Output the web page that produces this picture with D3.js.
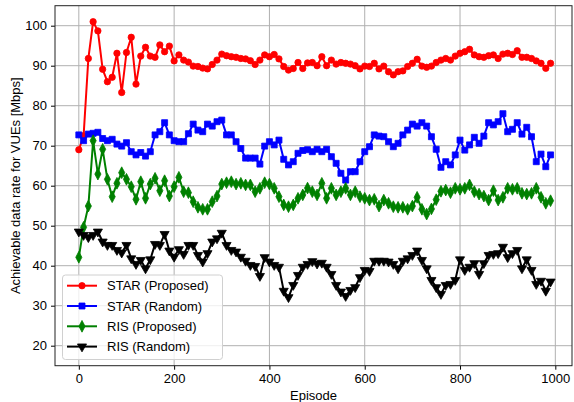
<!DOCTYPE html>
<html><head><meta charset="utf-8">
<script src="https://cdn.jsdelivr.net/npm/d3@7"></script>
<style>body{margin:0;background:#fff}svg{display:block;font-family:"Liberation Sans",Arial,sans-serif}</style>
</head><body><svg id="c" width="574" height="402"></svg>
<script>
const episodes = d3.range(0, 1000, 10);
const starProposed = [69,72.5,91.8,101,98.7,89.1,86,87.1,93.1,83.3,93.3,97.1,85.4,92.4,94.6,92.4,92.1,95.2,93.5,94.9,
91.2,92.7,91.4,90.9,89.9,89.8,89.4,89.2,90.3,91.4,92.9,92.5,92.25,92.1,91.8,91.7,91.25,90.3,91.4,92.7,
92.25,92.8,91.7,89.8,88.9,89.3,90.8,89.3,90.7,90.8,90,92.25,90,91.4,90.4,90.8,90.6,90.4,90,89.2,
89.9,89.8,90.6,89.2,89.9,88.5,87.7,88.5,88.7,89.8,90.6,91.6,89.9,89.6,89.9,90.8,91.4,91.8,91.4,92.4,
93.1,93.5,94.1,92.7,92.25,92.1,92.5,92.7,91.8,92.9,93.1,92.8,93.75,92.1,92.1,91.8,91.2,90.6,89.35,90.6];
const starRandom = [72.7,71.25,72.9,73.1,73.35,71.8,71.25,71.6,70.4,69.9,70.75,68.5,67.7,68.3,67.4,68.5,72.7,73.5,75.75,72.7,
71.25,71,71,73,75.4,73.9,73.5,75.4,74.9,76,76.4,72.7,72.7,71,69.3,66.9,66.9,66.9,65.4,69.9,
71,70.2,71.4,66.6,65.2,66,68.1,68.8,69,68.5,69.1,68.5,69.1,67.25,65.6,63.1,61.4,63.5,63.5,66,
68.5,69.75,72.7,72.4,72.25,71,69.75,70.6,72.7,73.9,75.4,74.9,75.75,74.9,72.25,69.1,64.6,66,65.2,67.7,
71.4,68.9,70.2,72.1,70.6,72.4,75.75,75.2,76,78,73.5,74.1,75.75,72.9,74.6,72.25,66,67.9,64.75,67.7];
const risProposed = [42.1,49.6,54.9,71.25,62.9,69.1,61.6,57.25,60.6,63.25,61.6,59.75,56.6,61,56.85,60.4,61.85,58.75,61.25,57.4,
59.75,62.1,58.5,58.25,56,54.6,54.1,54.1,56,57.4,60.4,60.75,61,60.4,60.6,60.2,60.2,58.5,59.35,60.75,
60.4,59.35,57.25,55.2,54.75,55.2,56.85,57.7,59.4,58.5,57.7,60.6,56.85,59.35,57.7,58.5,59.35,57.7,58.5,57.25,
56.85,56.4,56.6,54.9,56.4,55.6,54.75,54.6,54.6,54.1,54.9,57.1,54.1,52.9,54.2,56.5,58.6,58.9,58.25,59.35,
59.1,59.35,60.2,58.5,57.9,57.4,56.4,58.75,56.4,57.1,59.35,59.1,59.35,58.1,57.9,58.1,59.35,57.1,55.6,56.25];
const risRandom = [48.5,47.65,47.1,47.65,48.5,46,45.15,45.15,43.9,43.25,45.15,41.8,40.4,41.4,39.3,41.55,45.4,45.15,47.9,43.75,
42.2,44.1,42.9,45.15,45.15,42.65,41,43.1,46,46.8,48.2,45.15,43.9,43.5,42.2,41.2,40.15,39.9,37.4,42.1,
41,40.15,39.7,33.7,32.1,35.15,37.65,39.7,40.4,41.1,40.5,40.7,39.7,37.9,35.15,33.5,32.4,33.9,34.6,37.1,
38.9,38.65,41.2,41.2,41.2,41,40.4,39.3,41.2,41.8,42.65,43.75,41.4,39.3,36.4,34.6,32.9,35.15,35.4,36.4,
41.55,38.9,39.7,40.6,37.9,40.6,42.65,42.9,43.1,44.7,42.1,43.1,43.9,39.3,41.55,38.9,35.4,36.2,33.7,36];
const xTicks = [0,200,400,600,800,1000];
const yTicks = [20,30,40,50,60,70,80,90,100];
const seriesNames = ["STAR (Proposed)","STAR (Random)","RIS (Proposed)","RIS (Random)"];
const seriesColors = ["#ff0000","#0000ff","#008000","#000000"];
const seriesSymbols = ["circle","square","diamond","triangle"];
const seriesValues = [starProposed, starRandom, risProposed, risRandom];

const svg = d3.select("#c");
const L = 55, R = 572, T = 5.7, B = 365.7;
const x = d3.scaleLinear().domain([-50, 1035]).range([L, L + (1035+50)*0.4765]);
const y = d3.scaleLinear().domain([15, 105]).range([B, T]);

// grid
svg.append("g").selectAll("line").data(xTicks).join("line")
  .attr("x1", d => x(d)).attr("x2", d => x(d)).attr("y1", T).attr("y2", B)
  .attr("stroke", "#b0b0b0").attr("stroke-width", 1);
svg.append("g").selectAll("line").data(yTicks).join("line")
  .attr("y1", d => y(d)).attr("y2", d => y(d)).attr("x1", L).attr("x2", R)
  .attr("stroke", "#b0b0b0").attr("stroke-width", 1);

// axes
const xAxis = svg.append("g").attr("transform", `translate(0,${B})`)
  .call(d3.axisBottom(x).tickValues(xTicks).tickSize(4).tickPadding(4).tickFormat(d3.format("d")));
const yAxis = svg.append("g").attr("transform", `translate(${L},0)`)
  .call(d3.axisLeft(y).tickValues(yTicks).tickSize(4).tickPadding(4).tickFormat(d3.format("d")));
[xAxis, yAxis].forEach(g => {
  g.select(".domain").remove();
  g.selectAll("text").attr("font-size", 13).attr("fill", "#000").attr("font-family", "Liberation Sans, Arial, sans-serif");
  g.selectAll("line").attr("stroke", "#000");
});
// frame
svg.append("rect").attr("x", L).attr("y", T).attr("width", R - L).attr("height", B - T)
  .attr("fill", "none").attr("stroke", "#222").attr("stroke-width", 1);

const symMap = {circle: d3.symbolCircle, square: d3.symbolSquare, diamond: d3.symbolDiamond, triangle: d3.symbolTriangle};
const symSize = {circle: 32, square: 36, diamond: 36, triangle: 36};
function marker(g, kind, color) {
  const p = g.append("path").attr("d", d3.symbol().type(symMap[kind]).size(symSize[kind])()).attr("fill", color).attr("stroke", color).attr("stroke-width", 0.8);
  if (kind === "triangle") p.attr("transform", "rotate(180)");
  if (kind === "diamond") p.attr("transform", "scale(0.95,1.05)");
  return p;
}
const line = d3.line().x((d, i) => x(episodes[i])).y(d => y(d));
seriesValues.forEach((vals, s) => {
  const g = svg.append("g");
  g.append("path").attr("d", line(vals)).attr("fill", "none").attr("stroke", seriesColors[s]).attr("stroke-width", 2).attr("stroke-linejoin", "round");
  vals.forEach((v, i) => {
    const mg = g.append("g").attr("transform", `translate(${x(episodes[i])},${y(v)})`);
    marker(mg, seriesSymbols[s], seriesColors[s]);
  });
});

// legend
const lg = svg.append("g");
lg.append("rect").attr("x", 62.5).attr("y", 275).attr("width", 160).attr("height", 84.5).attr("rx", 3)
  .attr("fill", "#fff").attr("fill-opacity", 0.8).attr("stroke", "#d0d0d0");
seriesNames.forEach((name, s) => {
  const yy = 285.7 + s * 20.3;
  lg.append("line").attr("x1", 67).attr("x2", 97).attr("y1", yy).attr("y2", yy).attr("stroke", seriesColors[s]).attr("stroke-width", 2);
  const mg = lg.append("g").attr("transform", `translate(82,${yy})`);
  marker(mg, seriesSymbols[s], seriesColors[s]);
  lg.append("text").attr("x", 107).attr("y", yy).attr("dy", "0.35em").attr("font-size", 13).text(name);
});

// labels
svg.append("text").attr("x", (L + R) / 2).attr("y", 400).attr("text-anchor", "middle").attr("font-size", 13).text("Episode");
svg.append("text").attr("transform", `translate(15,${(T + B) / 2}) rotate(-90)`).attr("text-anchor", "middle").attr("dy", "0.35em").attr("font-size", 13).text("Achievable data rate for VUEs [Mbps]");
</script></body></html>
